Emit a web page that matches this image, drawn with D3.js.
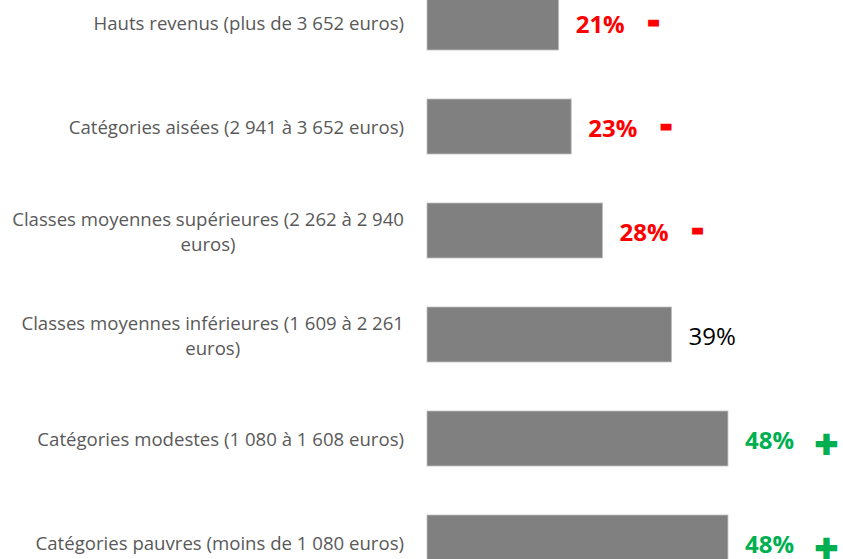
<!DOCTYPE html>
<html>
<head>
<meta charset="utf-8">
<script src="https://cdn.jsdelivr.net/npm/d3@7"></script>
<style>
  body { margin: 0; background: #fff; }
  svg { display: block; font-family: "Open Sans", Lato, sans-serif; }
</style>
</head>
<body>
<svg width="843" height="559"></svg>
<script>
const categories = [
  ["Hauts revenus (plus de 3 652 euros)"],
  ["Catégories aisées (2 941 à 3 652 euros)"],
  ["Classes moyennes supérieures (2 262 à 2 940", "euros)"],
  ["Classes moyennes inférieures (1 609 à 2 261", "euros)"],
  ["Catégories modestes (1 080 à 1 608 euros)"],
  ["Catégories pauvres (moins de 1 080 euros)"]
];
const values = [21, 23, 28, 39, 48, 48];
const trends = ["-", "-", "-", "", "+", "+"];

const trendColor = { "-": "#ff0000", "+": "#00b050", "": "#000000" };

const svg = d3.select("svg");
const ids = d3.range(categories.length);

const y = d3.scaleBand()
  .domain(ids)
  .range([-5, -5 + 6 * 104 - 49])
  .paddingInner(49 / 104)
  .paddingOuter(0);

const x = d3.scaleLinear()
  .domain([0, 50])
  .range([427, 427 + 313.5]);

// bars
svg.selectAll("rect.bar")
  .data(ids)
  .join("rect")
  .attr("class", "bar")
  .attr("x", x(0))
  .attr("y", i => y(i))
  .attr("width", i => x(values[i]) - x(0))
  .attr("height", y.bandwidth())
  .attr("fill", "#808080")
  .attr("stroke", "#bfbfbf")
  .attr("stroke-width", 0.8);

// category labels: right aligned block, wrapped lines centred
const labelRight = 404;
const labelSize = 18.6;
const labels = svg.selectAll("g.label")
  .data(ids)
  .join("g")
  .attr("class", "label")
  .attr("transform", i => `translate(0,${y(i) + y.bandwidth() / 2})`);

labels.each(function(i) {
  const g = d3.select(this);
  const lines = categories[i];
  const texts = lines.map((t, k) => g.append("text")
    .attr("font-size", labelSize)
    .attr("fill", "#595959")
    .attr("dominant-baseline", "central")
    .attr("y", (k - (lines.length - 1) / 2) * 25)
    .text(t));
  const w = d3.max(texts, t => t.node().getComputedTextLength());
  const cx = labelRight - w / 2;
  texts.forEach(t => t.attr("x", cx).attr("text-anchor", "middle"));
});

// value labels
const valueLabels = svg.selectAll("text.value")
  .data(ids)
  .join("text")
  .attr("class", "value")
  .attr("x", i => x(values[i]) + 17)
  .attr("y", i => y(i) + y.bandwidth() / 2 + 1)
  .attr("dominant-baseline", "central")
  .attr("font-size", 24)
  .attr("font-weight", i => trends[i] ? "bold" : "normal")
  .attr("fill", i => trendColor[trends[i]])
  .text(i => values[i] + "%");

// trend signs (thickened with a stroke, like the reference)
svg.selectAll("text.trend")
  .data(ids.filter(i => trends[i]))
  .join("text")
  .attr("class", "trend")
  .attr("x", i => x(values[i]) + 17 + valueLabels.nodes()[i].getComputedTextLength() + (trends[i] === "+" ? 21 : 24))
  .attr("y", i => y(i) + y.bandwidth() / 2 + (trends[i] === "+" ? 4 : -3))
  .attr("dominant-baseline", "central")
  .attr("font-size", i => trends[i] === "+" ? 40 : 30)
  .attr("font-weight", "bold")
  .attr("fill", i => trendColor[trends[i]])
  .attr("stroke", i => trendColor[trends[i]])
  .attr("stroke-width", i => trends[i] === "+" ? 2 : 3)
  .text(i => trends[i]);
</script>
</body>
</html>
